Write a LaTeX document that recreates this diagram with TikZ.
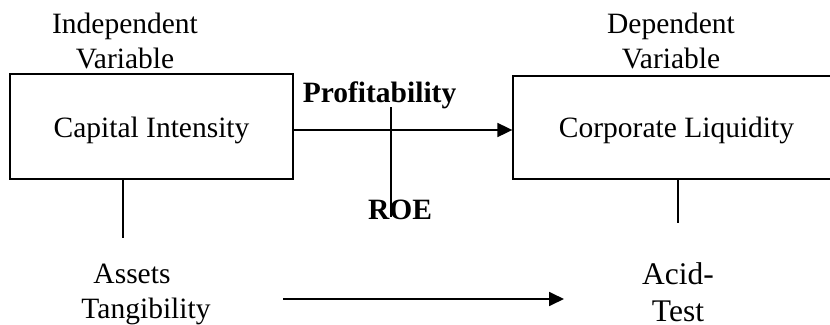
\documentclass[tikz,border=0pt]{standalone}
\usepackage{fontspec}
\setmainfont{Liberation Serif}
\usetikzlibrary{positioning,arrows.meta}

\tikzset{
    txt/.style={align=center,inner sep=2pt,font=\fontsize{29.5}{35}\selectfont},
    varbox/.style={draw,line width=1.3pt,inner sep=0pt,font=\fontsize{29.5}{35}\selectfont},
    arr/.style={line width=1.8pt,-{Triangle[length=15pt,width=14pt]}},
    link/.style={line width=1.3pt}
}

\begin{document}
\begin{tikzpicture}[x=1pt,y=-1pt]
    \useasboundingbox (0,0) rectangle (830,324);
    \clip (0,0) rectangle (830,324);

    \node[txt] (indep) at (125,41) {Independent\\Variable};
    \node[txt] (dep) at (671,41) {Dependent\\Variable};

    \node[varbox,minimum width=283pt,minimum height=105pt,text height=24pt,text depth=3pt]
        (capint) at (151.5,126.5) {Capital Intensity};
    \node[varbox,minimum width=327pt,minimum height=103pt,text height=22pt,text depth=3pt]
        (corliq) at (676.5,127.5) {Corporate Liquidity};

    \node[txt,font=\fontsize{29.5}{35}\selectfont\bfseries] (profit) at (379.5,95) {Profitability};
    \node[txt,font=\fontsize{29.5}{35}\selectfont\bfseries] (roe) at (400,210) {ROE};

    \node[txt] (assets) at (146,294) {Assets\hspace*{28pt}\\Tangibility};
    \node[txt,inner sep=0pt,font=\fontsize{31.5}{37}\selectfont] (acid) at (678,292) {Acid-\\Test};

    % links between the boxes
    \draw[arr] ([yshift=-3.5pt]capint.east) -- ([yshift=-2.5pt]corliq.west);
    \coordinate (roetop) at (391,107);
    \coordinate (roetip) at (391,217);
    \draw[link] (roetop) -- (roetip);

    \coordinate (tangtop) at (123,238);
    \draw[link] (capint.south -| tangtop) -- (tangtop);
    \coordinate (acidtop) at (678,223);
    \draw[link] (corliq.south -| acidtop) -- (acidtop);

    \coordinate (tangend) at (283,299);
    \coordinate (acidend) at (564,299);
    \draw[arr] (tangend) -- (acidend);
\end{tikzpicture}
\end{document}
